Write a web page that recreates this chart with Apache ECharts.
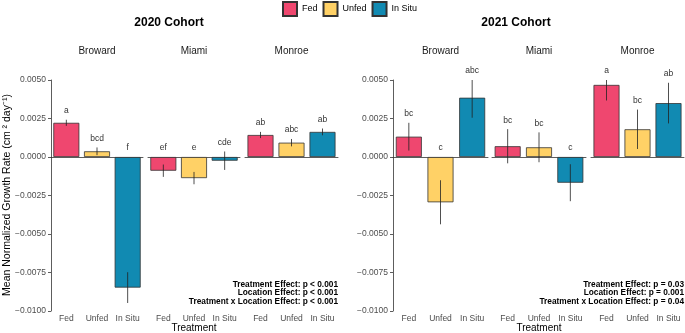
<!DOCTYPE html>
<html><head><meta charset="utf-8">
<script src="https://cdn.jsdelivr.net/npm/echarts@6/dist/echarts.min.js"></script>
<style>html,body{margin:0;padding:0;background:#fff}#c{width:685px;height:333px}</style>
</head><body><div id="c"></div>
<script>
const categories = ['Fed', 'Unfed', 'In Situ'];
const locations = ['Broward', 'Miami', 'Monroe'];
const cohorts = ['2020 Cohort', '2021 Cohort'];
const colors = ['#EF476F', '#FFD166', '#118AB2'];
// [location][treatment]
const mean2020 = [[0.00222, 0.00037, -0.00848], [-0.00089, -0.00137, -0.00024], [0.00143, 0.00093, 0.00163]];
const se2020 = [[0.0002, 0.00025, 0.001], [0.0004, 0.0004, 0.0006], [0.0002, 0.00024, 0.00022]];
const letters2020 = [['a', 'bcd', 'f'], ['ef', 'e', 'cde'], ['ab', 'abc', 'ab']];
const mean2021 = [[0.00132, -0.00294, 0.00385], [0.0007, 0.00063, -0.00167], [0.00468, 0.0018, 0.0035]];
const se2021 = [[0.0009, 0.00143, 0.0013], [0.00111, 0.00097, 0.0012], [0.00101, 0.00128, 0.00132]];
const letters2021 = [['bc', 'c', 'abc'], ['bc', 'bc', 'c'], ['a', 'bc', 'ab']];
const stats2020 = ['Treatment Effect: p < 0.001', 'Location Effect: p < 0.001', 'Treatment x Location Effect: p < 0.001'];
const stats2021 = ['Treatment Effect: p = 0.03', 'Location Effect: p = 0.001', 'Treatment x Location Effect: p = 0.04'];
const yMin = -0.01, yMax = 0.005, yInterval = 0.0025;
const yTitle = 'Mean Normalized Growth Rate (cm ² day⁻¹)';
const xTitle = 'Treatment';

const FONT = 'Liberation Sans, Arial, sans-serif';
const panels = [
  {left: 51, width: 92}, {left: 148, width: 92}, {left: 245, width: 93},
  {left: 393, width: 95}, {left: 492, width: 94}, {left: 591, width: 93}
];
const cohortData = [
  {mean: mean2020, se: se2020, letters: letters2020, stats: stats2020, titleX: 169, statX: 338},
  {mean: mean2021, se: se2021, letters: letters2021, stats: stats2021, titleX: 516, statX: 684}
];
const fmtY = v => (v < 0 ? '\u2212' : '') + Math.abs(v).toFixed(4);

const grids = [], xAxes = [], yAxes = [], series = [], graphics = [];
panels.forEach((p, g) => {
  const ci = Math.floor(g / 3), li = g % 3;
  const cd = cohortData[ci];
  grids.push({left: p.left, width: p.width, top: 80, bottom: 22});
  xAxes.push({
    type: 'category', gridIndex: g, data: categories,
    axisLine: {lineStyle: {color: '#333', width: 0.8}},
    axisTick: {alignWithLabel: true, length: 3, lineStyle: {color: '#333', width: 0.8}},
    axisLabel: {color: '#4d4d4d', fontSize: 8.5, margin: 3, fontFamily: FONT, interval: 0}
  });
  const first = li === 0;
  yAxes.push({
    type: 'value', gridIndex: g, min: yMin, max: yMax, interval: yInterval,
    show: first, splitLine: {show: false},
    axisLine: {show: true, lineStyle: {color: '#333', width: 0.8}},
    axisTick: {show: true, length: 3, lineStyle: {color: '#333', width: 0.8}},
    axisLabel: {color: '#4d4d4d', fontSize: 8.5, margin: 5, fontFamily: FONT, formatter: fmtY}
  });
  categories.forEach((cat, c) => {
    series.push({
      type: 'bar', name: cat, xAxisIndex: g, yAxisIndex: g,
      barWidth: 26, barGap: '-100%',
      itemStyle: {color: colors[c], borderColor: '#333', borderWidth: 0.8},
      data: categories.map((_, k) => k === c ? cd.mean[li][k] : '-')
    });
  });
  series.push({
    type: 'custom', xAxisIndex: g, yAxisIndex: g, z: 5,
    data: categories.map((_, k) => [k, cd.mean[li][k] - cd.se[li][k], cd.mean[li][k] + cd.se[li][k]]),
    encode: {x: 0, y: [1, 2]},
    renderItem: (params, api) => {
      const x = api.value(0);
      const lo = Math.max(api.value(1), yMin), hi = Math.min(api.value(2), yMax);
      const p1 = api.coord([x, lo]), p2 = api.coord([x, hi]);
      return {type: 'line', shape: {x1: p1[0], y1: p1[1], x2: p2[0], y2: p2[1]},
        style: {stroke: '#222', lineWidth: 0.8}};
    }
  });
  series.push({
    type: 'custom', xAxisIndex: g, yAxisIndex: g, z: 6,
    data: categories.map((_, k) => [k, Math.min(Math.max(cd.mean[li][k] + cd.se[li][k], 0), yMax) + 0.00058, cd.letters[li][k]]),
    encode: {x: 0, y: 1},
    renderItem: (params, api) => {
      const pt = api.coord([api.value(0), api.value(1)]);
      return {type: 'text', x: pt[0], y: pt[1],
        style: {text: cd.letters[li][params.dataIndex], textAlign: 'center', textVerticalAlign: 'middle',
          font: '8.5px ' + FONT, fill: '#333'}};
    }
  });
  graphics.push({type: 'text', x: p.left + p.width / 2, y: 51,
    style: {text: locations[li], textAlign: 'center', textVerticalAlign: 'middle', font: '10px ' + FONT, fill: '#1a1a1a'}});
  if (li === 1) {
    graphics.push({type: 'text', x: p.left + p.width / 2, y: 328.5,
      style: {text: xTitle, textAlign: 'center', textVerticalAlign: 'middle', font: '10px ' + FONT, fill: '#000'}});
  }
});
cohortData.forEach((cd, ci) => {
  graphics.push({type: 'text', x: cd.titleX, y: 23,
    style: {text: cohorts[ci], textAlign: 'center', textVerticalAlign: 'middle', font: 'bold 12px ' + FONT, fill: '#000'}});
  cd.stats.forEach((s, i) => {
    graphics.push({type: 'text', x: cd.statX, y: 284.5 + i * 8.4,
      style: {text: s, textAlign: 'right', textVerticalAlign: 'middle', font: 'bold 8.3px ' + FONT, fill: '#000'}});
  });
});
graphics.push({type: 'text', x: 7, y: 195, rotation: Math.PI / 2,
  style: {text: yTitle, textAlign: 'center', textVerticalAlign: 'middle', font: '10.5px ' + FONT, fill: '#000'}});

const chart = echarts.init(document.getElementById('c'), null, {renderer: 'canvas'});
chart.setOption({
  animation: false,
  textStyle: {fontFamily: FONT},
  legend: {
    data: categories, top: 1, left: 282, padding: 0, icon: 'rect', itemWidth: 14, itemHeight: 14, itemGap: 5,
    textStyle: {fontSize: 9, color: '#000', fontFamily: FONT}
  },
  grid: grids, xAxis: xAxes, yAxis: yAxes, series: series, graphic: graphics
});
</script></body></html>
